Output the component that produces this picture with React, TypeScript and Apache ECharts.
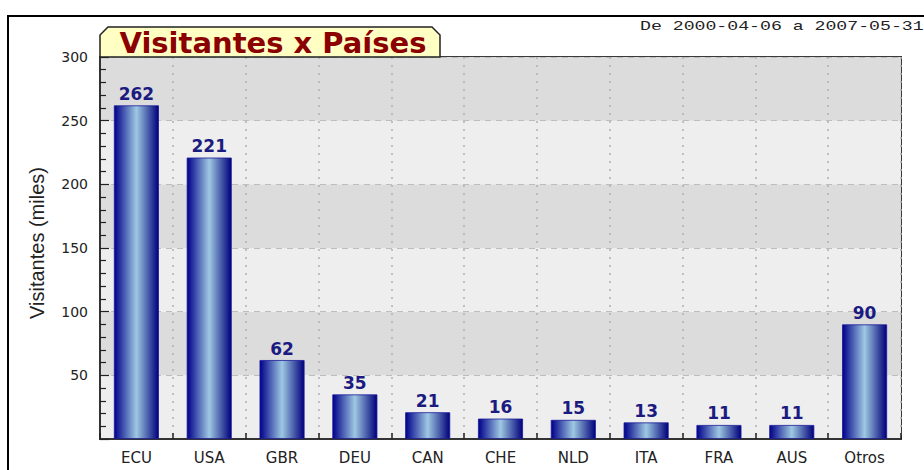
import React, { useEffect, useRef } from "react";
import * as echarts from "echarts";

const categories = ["ECU", "USA", "GBR", "DEU", "CAN", "CHE", "NLD", "ITA", "FRA", "AUS", "Otros"];
const visitors = [262, 221, 62, 35, 21, 16, 15, 13, 11, 11, 90];
const yTicks = [0, 50, 100, 150, 200, 250, 300];
const titleText = "Visitantes x Países";
const dateText = "De 2000-04-06 a 2007-05-31";
const yAxisTitle = "Visitantes (miles)";

export default function App() {
  const ref = useRef<HTMLDivElement>(null);
  useEffect(() => {
    if (!ref.current) return;
    const chart = echarts.init(ref.current, null, { renderer: "svg" });
    const barGradient = new echarts.graphic.LinearGradient(0, 0, 1, 0, [
      { offset: 0, color: "#00008a" },
      { offset: 0.5, color: "#9ec8e2" },
      { offset: 1, color: "#00007a" },
    ]);
    chart.setOption({
      animation: false,
      backgroundColor: "#ffffff",
      grid: {
        left: 100,
        top: 57,
        width: 801,
        height: 382,
        show: true,
        borderColor: "#3a3a3a",
        borderWidth: 2,
        backgroundColor: "transparent",
      },
      xAxis: {
        type: "category",
        data: categories,
        axisLine: { show: true, lineStyle: { color: "#333", width: 2 } },
        axisTick: { show: true, inside: true, length: 6, lineStyle: { color: "#222", width: 1.5 } },
        axisLabel: {
          margin: 11,
          color: "#222",
          fontFamily: "DejaVu Sans",
          fontSize: 15,
        },
        splitLine: { show: true, lineStyle: { color: "#b0b0b0", type: [2, 6], width: 1.5 } },
      },
      yAxis: {
        type: "value",
        min: yTicks[0],
        max: yTicks[yTicks.length - 1],
        interval: 50,
        axisLine: { show: true, lineStyle: { color: "#333", width: 2 } },
        axisTick: { show: true, inside: true, length: 9, lineStyle: { color: "#222", width: 1.2 } },
        minorTick: { show: true, splitNumber: 5, length: 6, lineStyle: { color: "#222", width: 1.2 } },
        axisLabel: {
          showMinLabel: false,
          margin: 12,
          color: "#222",
          fontFamily: "DejaVu Sans",
          fontSize: 14,
        },
        splitLine: { show: true, lineStyle: { color: "#bdbdbd", type: [6, 5], width: 1 } },
        splitArea: { show: true, areaStyle: { color: ["#eeeeee", "#dcdcdc"] } },
      },
      series: [
        {
          type: "bar",
          data: visitors,
          barWidth: 45,
          itemStyle: { color: barGradient, borderColor: "#1a1a9a", borderWidth: 0.8 },
          label: {
            show: true,
            position: "top",
            distance: 3,
            color: "#1a1a80",
            fontFamily: "DejaVu Sans",
            fontWeight: "bold",
            fontSize: 17,
          },
        },
      ],
      graphic: [
        {
          type: "rect",
          shape: { x: 8, y: 16, width: 1000, height: 600 },
          style: { fill: "none", stroke: "#000", lineWidth: 2 },
          silent: true,
        },
        {
          type: "polygon",
          shape: {
            points: [
              [100, 57],
              [100, 35],
              [108, 27],
              [432, 27],
              [440, 35],
              [440, 57],
            ],
          },
          style: { fill: "#ffffc4", stroke: "#222", lineWidth: 1.5 },
          z: 10,
        },
        {
          type: "text",
          x: 273,
          y: 43,
          z: 11,
          style: {
            text: titleText,
            fill: "#8b0000",
            font: "bold 29px 'DejaVu Sans'",
            align: "center",
            verticalAlign: "middle",
          },
        },
        {
          type: "text",
          x: 640,
          y: 27,
          scaleX: 1.4,
          z: 11,
          style: {
            text: dateText,
            fill: "#222",
            font: "13px 'Liberation Mono'",
            align: "left",
            verticalAlign: "middle",
          },
        },
        {
          type: "text",
          x: 37,
          y: 243,
          rotation: Math.PI / 2,
          z: 11,
          style: {
            text: yAxisTitle,
            fill: "#222",
            font: "20px 'Liberation Sans'",
            align: "center",
            verticalAlign: "middle",
          },
        },
      ],
    });
    return () => chart.dispose();
  }, []);
  return (
    <div
      ref={ref}
      style={{ position: "fixed", left: 0, top: 0, width: 924, height: 470 }}
    />
  );
}
